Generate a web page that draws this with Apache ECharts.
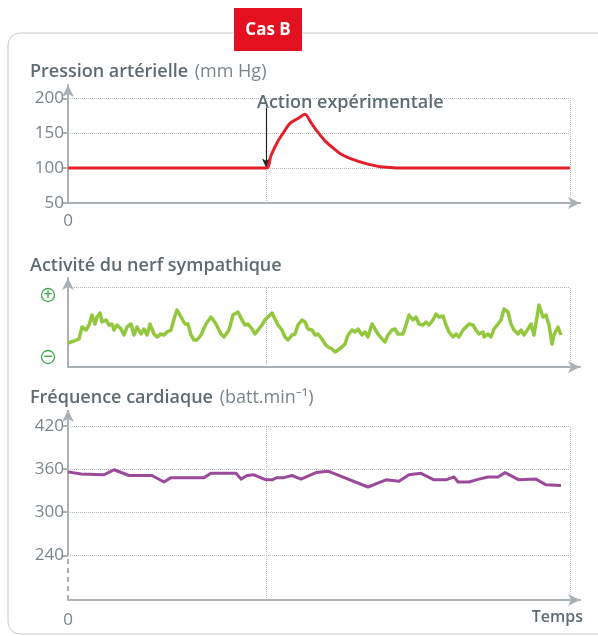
<!DOCTYPE html>
<html lang="fr">
<head>
<meta charset="UTF-8">
<title>Cas B</title>
<script src="https://cdn.jsdelivr.net/npm/echarts@6/dist/echarts.min.js"></script>
<style>
  html, body { margin: 0; padding: 0; background: #fff; }
  #chart { width: 598px; height: 636px; }
</style>
</head>
<body>
<div id="chart"></div>
<script>
// temps (unités arbitraires), action expérimentale à t = 198
var actionT = 198;
var finT = 502;

// pression artérielle (mm Hg)
var tempsPression = [0, 198, 203, 209, 216, 222, 230, 237, 243, 249, 257, 265, 272, 282, 299, 312, 322, 332, 502];
var pression = [100, 100, 118, 136, 152, 164, 171, 177, 165, 153, 139, 129, 121, 114, 106, 102, 101, 100, 100];
var ticksPression = [50, 100, 150, 200];

// activité du nerf sympathique (unités arbitraires, 0 = axe, 80 = niveau +)
var tempsNerf = [0, 6, 11, 14, 18, 21, 24, 27, 29, 32, 34, 38, 41, 44, 46, 49, 53, 56, 59, 63,
  66, 69, 73, 76, 79, 82, 86, 89, 93, 96, 99, 103, 106, 109, 113, 117, 120, 123, 126, 129,
  133, 138, 143, 148, 153, 156, 161, 165, 170, 174, 177, 180, 184, 187, 190, 194, 197, 200, 204, 207,
  210, 214, 217, 220, 224, 227, 230, 234, 237, 240, 244, 247, 250, 254, 257, 260, 264, 267, 270, 274,
  277, 280, 284, 287, 290, 294, 297, 300, 304, 307, 310, 314, 317, 320, 324, 327, 330, 335, 338, 341,
  345, 348, 351, 355, 358, 361, 365, 368, 371, 375, 378, 381, 385, 388, 391, 395, 398, 401, 405, 408,
  411, 415, 416, 420, 423, 426, 430, 433, 436, 440, 443, 446, 450, 453, 456, 460, 463, 466, 471, 475,
  478, 481, 484, 486, 490, 493];
var nerf = [24, 26, 28, 40, 37, 42, 52, 43, 50, 54, 45, 47, 42, 43, 37, 42, 38, 32, 40, 43,
  32, 40, 33, 38, 32, 43, 33, 30, 33, 32, 35, 37, 48, 57, 50, 43, 43, 32, 27, 27,
  32, 43, 50, 43, 33, 30, 37, 52, 55, 47, 42, 43, 38, 33, 37, 42, 47, 50, 54, 48,
  42, 37, 30, 27, 32, 33, 42, 47, 45, 38, 37, 32, 33, 28, 23, 20, 18, 15, 17, 20,
  23, 32, 37, 35, 38, 32, 35, 30, 43, 38, 33, 28, 25, 32, 37, 38, 33, 33, 42, 52,
  47, 50, 43, 42, 45, 42, 47, 53, 50, 51, 42, 35, 30, 33, 30, 37, 40, 43, 42, 37,
  33, 35, 30, 33, 30, 38, 43, 47, 58, 55, 43, 37, 33, 37, 32, 38, 43, 32, 62, 50,
  52, 42, 23, 32, 40, 32];
var nerfMax = 80;

// fréquence cardiaque (batt.min-1)
var tempsFreq = [0, 13, 36, 46, 61, 84, 96, 103, 136, 143, 168, 173, 179, 186, 198, 204, 209, 216, 224, 233,
  248, 260, 300, 318, 331, 341, 353, 366, 378, 386, 390, 401, 411, 420, 430, 437, 451, 468, 478, 493];
var freq = [356, 353, 352, 359, 351, 351, 342, 348, 348, 354, 354, 346, 351, 352, 345, 345, 348, 348, 351, 346,
  355, 357, 335, 345, 343, 352, 354, 345, 345, 349, 342, 342, 346, 349, 349, 355, 345, 346, 338, 337];
var ticksFreq = [240, 300, 360, 420];
var freqMin = 178;

function zip(xs, ys) {
  var out = [];
  for (var i = 0; i < xs.length; i++) out.push([xs[i], ys[i]]);
  return out;
}

var gris = '#a9b1b5';
var texte = '#5f6b72';
var texteClair = '#7b858b';
var police = '"Open Sans", "Noto Sans", sans-serif';
var pointille = { color: '#b3babe', type: 'dotted', width: 1 };

function seg(x1, y1, x2, y2) {
  return [{ coord: [x1, y1] }, { coord: [x2, y2] }];
}

// lignes pointillées de chaque graphique
var guidesPression = [
  seg(0, 100, finT, 100), seg(0, 150, finT, 150), seg(0, 200, finT, 200),
  seg(finT, 50, finT, 200), seg(actionT, 50, actionT, 100)
];
// flèche de l'action expérimentale
guidesPression.push([
  { coord: [actionT, 186], symbol: 'none', lineStyle: { color: '#222', type: 'solid', width: 1.2 } },
  { coord: [actionT, 101], symbol: 'arrow', symbolSize: [6, 9] }
]);

var guidesNerf = [
  seg(0, nerfMax, finT, nerfMax), seg(finT, 0, finT, nerfMax), seg(actionT, 0, actionT, nerfMax)
];

var guidesFreq = [
  seg(0, 240, finT, 240), seg(0, 300, finT, 300), seg(0, 360, finT, 360), seg(0, 420, finT, 420),
  seg(finT, freqMin, finT, 420), seg(actionT, freqMin, actionT, 420)
];
// axe des ordonnées : pointillé sous 240 puis plein avec flèche
var axeFreq = [
  [{ coord: [0, freqMin], symbol: 'none', lineStyle: { color: gris, type: [5, 4], width: 2 } },
   { coord: [0, 240], symbol: 'none' }],
  [{ coord: [0, 240], symbol: 'none', lineStyle: { color: gris, type: 'solid', width: 2 } },
   { coord: [0, 442], symbol: 'arrow', symbolSize: [9, 12] }]
];

function axeX(idx, showZero, margin) {
  return {
    type: 'value', gridIndex: idx, min: 0, max: 512,
    splitLine: { show: false },
    axisTick: { show: false },
    axisLine: { show: true, lineStyle: { color: gris, width: 2 }, symbol: ['none', 'arrow'], symbolSize: [9, 12] },
    axisLabel: {
      show: showZero, customValues: [0], margin: margin,
      color: texteClair, fontSize: 17, fontFamily: police
    }
  };
}

var myChart = echarts.init(document.getElementById('chart'));

var option = {
  animation: false,
  grid: [
    { left: 68, top: 85, width: 512, height: 118 },
    { left: 68, top: 278, width: 512, height: 89 },
    { left: 68, top: 410, width: 512, height: 190 }
  ],
  xAxis: [axeX(0, true, 10), axeX(1, false, 10), axeX(2, true, 12)],
  yAxis: [
    {
      type: 'value', gridIndex: 0, min: 50, max: 219,
      splitLine: { show: false },
      axisLine: { show: true, lineStyle: { color: gris, width: 2 }, symbol: ['none', 'arrow'], symbolSize: [9, 12] },
      axisTick: { show: true, customValues: ticksPression, length: 6, lineStyle: { color: gris, width: 2 } },
      axisLabel: { customValues: ticksPression, margin: 4, color: texteClair, fontSize: 17, fontFamily: police }
    },
    {
      type: 'value', gridIndex: 1, min: 0, max: 89,
      splitLine: { show: false },
      axisLine: { show: true, lineStyle: { color: gris, width: 2 }, symbol: ['none', 'arrow'], symbolSize: [9, 12] },
      axisTick: { show: false },
      axisLabel: { show: false }
    },
    {
      type: 'value', gridIndex: 2, min: freqMin, max: 442,
      splitLine: { show: false },
      axisLine: { show: false },
      axisTick: { show: true, customValues: ticksFreq, length: 6, lineStyle: { color: gris, width: 2 } },
      axisLabel: { customValues: ticksFreq, margin: 4, color: texteClair, fontSize: 17, fontFamily: police }
    }
  ],
  series: [
    {
      name: 'Pression artérielle', type: 'line', xAxisIndex: 0, yAxisIndex: 0,
      data: zip(tempsPression, pression), smooth: 0.3, showSymbol: false, symbol: 'none', clip: false,
      lineStyle: { color: '#e2202c', width: 3 }, z: 5,
      markLine: { silent: true, symbol: 'none', label: { show: false }, lineStyle: pointille, data: guidesPression, z: 1 }
    },
    {
      name: 'Activité du nerf sympathique', type: 'line', xAxisIndex: 1, yAxisIndex: 1,
      data: zip(tempsNerf, nerf), showSymbol: false, symbol: 'none', clip: false,
      lineStyle: { color: '#93c83e', width: 3.5, join: 'round' }, z: 5,
      markLine: { silent: true, symbol: 'none', label: { show: false }, lineStyle: pointille, data: guidesNerf, z: 1 }
    },
    {
      name: 'Fréquence cardiaque', type: 'line', xAxisIndex: 2, yAxisIndex: 2,
      data: zip(tempsFreq, freq), showSymbol: false, symbol: 'none', clip: false,
      lineStyle: { color: '#9b4a9a', width: 3, join: 'round' }, z: 5,
      markLine: { silent: true, symbol: 'none', label: { show: false }, lineStyle: pointille, data: guidesFreq.concat(axeFreq), z: 1 }
    }
  ],
  graphic: [
    // cadre
    { type: 'rect', shape: { x: 8, y: 33, width: 640, height: 601, r: 12 }, style: { fill: 'none', stroke: '#c9c9c9', lineWidth: 1 }, z: 0 },
    // étiquette Cas B
    { type: 'rect', shape: { x: 234, y: 8, width: 68, height: 43 }, style: { fill: '#e3101f' }, z: 10 },
    { type: 'text', x: 268, y: 30, style: { text: 'Cas B', fill: '#fff', font: 'bold 17px "Open Sans", sans-serif', textAlign: 'center', textVerticalAlign: 'middle' }, z: 11 },
    // titres
    { type: 'text', x: 30, y: 72, style: {
        text: '{b|Pression artérielle}  {r|(mm Hg)}', textVerticalAlign: 'middle',
        rich: { b: { fill: texte, fontSize: 18, fontWeight: 600, fontFamily: police }, r: { fill: texteClair, fontSize: 18, fontFamily: police } } } },
    { type: 'text', x: 30, y: 266, style: {
        text: 'Activité du nerf sympathique', textVerticalAlign: 'middle',
        fill: texte, font: '600 18px "Open Sans", sans-serif' } },
    { type: 'text', x: 30, y: 398, style: {
        text: '{b|Fréquence cardiaque}  {r|(batt.min⁻¹)}', textVerticalAlign: 'middle',
        rich: { b: { fill: texte, fontSize: 18, fontWeight: 600, fontFamily: police }, r: { fill: texteClair, fontSize: 18, fontFamily: police } } } },
    // annotation
    { type: 'text', x: 257, y: 103, style: { text: 'Action expérimentale', fill: texte, font: '600 18px "Open Sans", sans-serif', textVerticalAlign: 'middle' }, z: 12 },
    // + et -
    { type: 'circle', shape: { cx: 48, cy: 295, r: 6.5 }, style: { fill: '#fff', stroke: '#3fa94a', lineWidth: 1.3 } },
    { type: 'text', x: 48, y: 295, style: { text: '+', fill: '#3fa94a', font: 'bold 12px "DejaVu Sans", sans-serif', textAlign: 'center', textVerticalAlign: 'middle' } },
    { type: 'circle', shape: { cx: 48, cy: 357, r: 6.5 }, style: { fill: '#fff', stroke: '#3fa94a', lineWidth: 1.3 } },
    { type: 'text', x: 48, y: 357, style: { text: '−', fill: '#3fa94a', font: 'bold 12px "DejaVu Sans", sans-serif', textAlign: 'center', textVerticalAlign: 'middle' } },
    // axe du temps
    { type: 'text', x: 583, y: 617, style: { text: 'Temps', fill: texte, font: '600 16px "Open Sans", sans-serif', textAlign: 'right', textVerticalAlign: 'middle' } }
  ]
};

myChart.setOption(option);
</script>
</body>
</html>
